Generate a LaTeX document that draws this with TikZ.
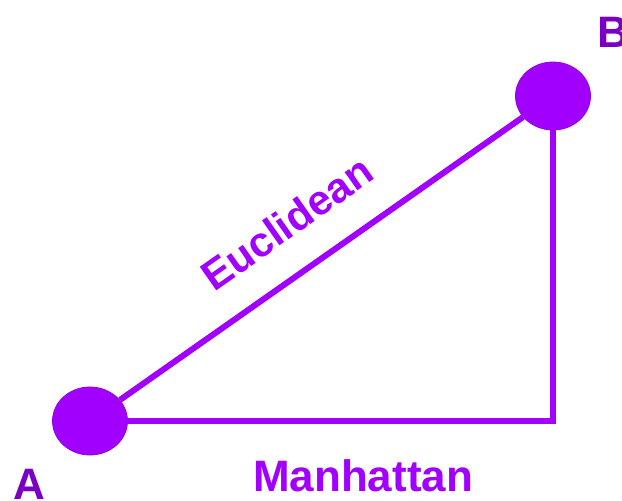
\documentclass[tikz,border=0pt]{standalone}
\usepackage{fontspec}
\setmainfont{Liberation Sans}
\usetikzlibrary{positioning,calc,shapes.geometric}
\definecolor{fviolet}{HTML}{A100FF}
\definecolor{fdeep}{HTML}{7A00C4}
\tikzset{
  pointnode/.style = {ellipse, fill=fviolet, draw=fviolet!90!black, line width=0.8pt,
                      inner sep=0pt, minimum width=75pt, minimum height=68pt},
  distline/.style  = {fviolet, line width=6pt},
  bigtext/.style   = {font=\bfseries\fontsize{44}{44}\selectfont, inner sep=0pt},
}
\begin{document}
\begin{tikzpicture}[x=1pt,y=-1pt]
\useasboundingbox (0,0) rectangle (622,501);
\node[pointnode] (A) at (90,421) {};
\node[pointnode] (B) at (553,96) {};
\coordinate (C) at (553,421);
% straight line A to B
\draw[distline] (A) -- node[bigtext,fviolet,sloped,pos=0.484,yshift=49pt,
  font=\bfseries\fontsize{42}{42}\selectfont]{Euclidean} (B);
% along the axes
\draw[distline] (A) -- (C) -- (B);
\node[bigtext,fdeep,anchor=base] (labA) at (29,499) {A};
\node[bigtext,fdeep,anchor=base] (labB) at (613,47) {B};
\node[bigtext,fviolet,anchor=base] (labM) at (363,491) {Manhattan};
\end{tikzpicture}
\end{document}
